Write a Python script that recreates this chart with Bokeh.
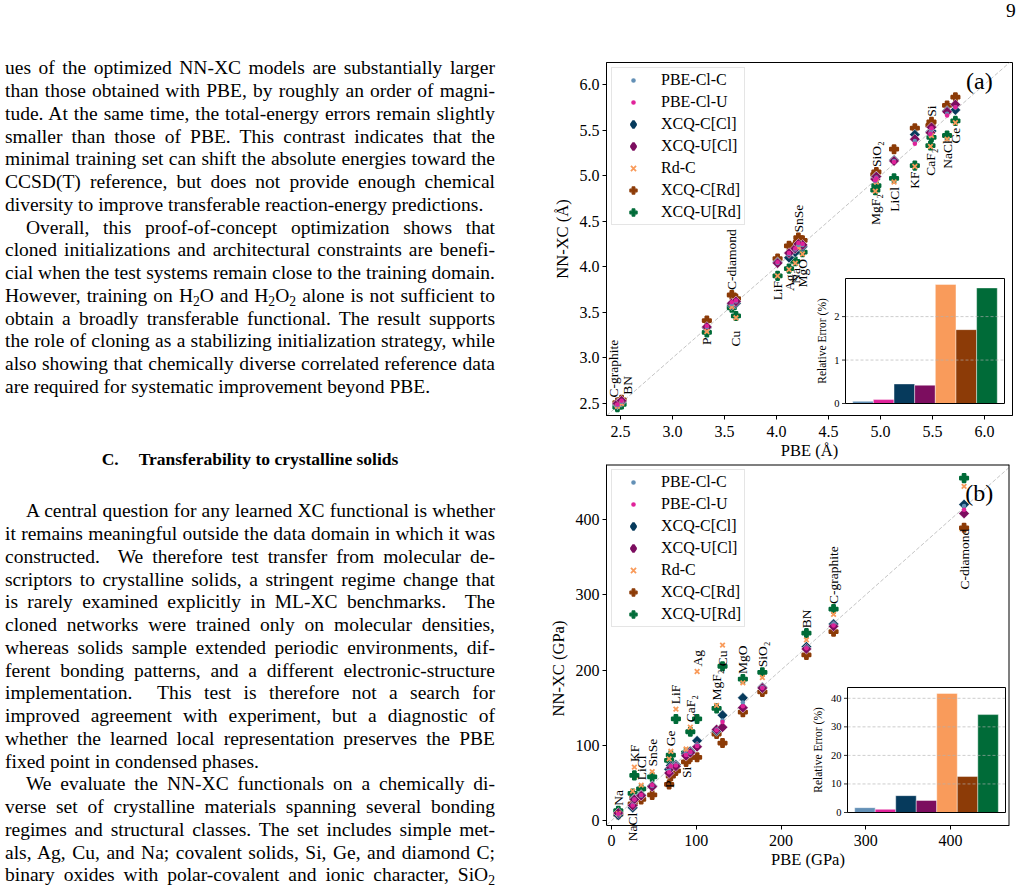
import numpy as np
from bokeh.plotting import figure
from bokeh.models import (Range1d, FixedTicker, NumeralTickFormatter, Legend, LegendItem,
                          Slope, Label, Div)
from bokeh.layouts import row, column
from bokeh.embed import file_html
from bokeh.resources import INLINE
from bokeh.core.properties import value

# ---------------------------------------------------------------- data
SERIES = ["PBE-Cl-C", "PBE-Cl-U", "XCQ-C[Cl]", "XCQ-U[Cl]", "Rd-C", "XCQ-C[Rd]", "XCQ-U[Rd]"]

# panel (a): lattice constants (Å)
lat_materials = ["C-graphite", "BN", "P", "C-diamond", "Cu", "LiF", "Ag", "Na", "MgO", "SnSe",
                 "MgF₂", "SiO₂", "LiCl", "KF", "CaF₂", "Si", "NaCl", "Ge"]
lat_pbe      = [2.47, 2.51, 3.33, 3.57, 3.61, 4.01, 4.12, 4.18, 4.25, 4.21, 4.95, 4.96, 5.13, 5.33, 5.48, 5.49, 5.64, 5.72]
lat_pbe_cl_c = [2.48, 2.52, 3.34, 3.59, 3.62, 4.04, 4.14, 4.19, 4.24, 4.24, 4.94, 4.98, 5.16, 5.38, 5.47, 5.51, 5.68, 5.75]
lat_pbe_cl_u = [2.49, 2.53, 3.35, 3.61, 3.63, 4.05, 4.15, 4.20, 4.25, 4.26, 4.95, 4.97, 5.15, 5.35, 5.46, 5.52, 5.66, 5.75]
lat_xcq_c_cl = [2.49, 2.52, 3.33, 3.58, 3.60, 4.05, 4.10, 4.16, 4.22, 4.23, 4.97, 4.99, 5.17, 5.45, 5.48, 5.49, 5.71, 5.72]
lat_xcq_u_cl = [2.50, 2.53, 3.34, 3.60, 3.62, 4.04, 4.15, 4.20, 4.24, 4.25, 4.96, 4.99, 5.16, 5.40, 5.47, 5.53, 5.70, 5.78]
lat_rd_c     = [2.47, 2.50, 3.29, 3.56, 3.44, 3.90, 3.97, 4.04, 4.14, 4.21, 4.83, 4.93, 4.93, 5.10, 5.32, 5.44, 5.40, 5.58]
lat_xcq_c_rd = [2.51, 2.54, 3.41, 3.69, 3.65, 4.09, 4.23, 4.24, 4.29, 4.32, 5.01, 5.04, 5.29, 5.52, 5.55, 5.59, 5.77, 5.86]
lat_xcq_u_rd = [2.46, 2.49, 3.28, 3.55, 3.46, 3.90, 3.98, 4.06, 4.16, 4.22, 4.84, 4.89, 4.97, 5.11, 5.33, 5.42, 5.44, 5.60]
lat_rel_err  = [0.05, 0.09, 0.45, 0.42, 2.74, 1.70, 2.66]
lat_ticks    = [2.5, 3.0, 3.5, 4.0, 4.5, 5.0, 5.5, 6.0]
lat_err_ticks = [0, 1, 2]

# panel (b): bulk moduli (GPa)
bulk_materials = ["Na", "NaCl", "KF", "LiCl", "SnSe", "P", "Ge", "LiF", "Si", "CaF₂", "Ag", "MgF₂",
                  "Cu", "MgO", "SiO₂", "BN", "C-graphite", "C-diamond"]
bulk_pbe      = [8, 25, 27, 35, 48, 68, 70, 76, 88, 93, 101, 124, 131, 155, 178, 230, 262, 416]
bulk_pbe_cl_c = [8, 21, 28, 33, 46, 66, 72, 74, 88, 90, 100, 121, 133, 157, 177, 230, 261, 418]
bulk_pbe_cl_u = [9, 20, 28, 34, 47, 64, 72, 73, 87, 91, 99, 120, 131, 152, 176, 229, 259, 413]
bulk_xcq_c_cl = [7, 17, 29, 34, 46, 68, 73, 74, 89, 92, 106, 119, 140, 163, 177, 231, 261, 420]
bulk_xcq_u_cl = [10, 20, 28, 33, 45, 63, 70, 72, 86, 90, 98, 121, 124, 150, 176, 228, 258, 408]
bulk_rd_c     = [9, 39, 71, 47, 65, 82, 92, 148, 95, 124, 198, 153, 233, 183, 190, 240, 274, 444]
bulk_xcq_c_rd = [8, 22, 30, 28, 34, 48, 59, 66, 78, 84, 84, 115, 103, 144, 171, 220, 251, 389]
bulk_xcq_u_rd = [13, 36, 60, 42, 58, 80, 87, 135, 90, 118, 135, 149, 205, 188, 197, 249, 281, 455]
bulk_rel_err  = [1.7, 1.1, 5.9, 4.2, 41.7, 12.6, 34.3]
bulk_ticks    = [0, 100, 200, 300, 400]
bulk_err_ticks = [0, 10, 20, 30, 40]

# ---------------------------------------------------------------- styles / placement
FONT = "Liberation Serif"
COLORS = {"PBE-Cl-C": "#6390b6", "PBE-Cl-U": "#e0229a", "XCQ-C[Cl]": "#063a5c",
          "XCQ-U[Cl]": "#7c0d5f", "Rd-C": "#f99b5b", "XCQ-C[Rd]": "#8c3b07", "XCQ-U[Rd]": "#006b38"}
MARKERS = {
    "PBE-Cl-C": dict(marker="circle", size=4.5, line_color=None),
    "PBE-Cl-U": dict(marker="circle", size=4.5, line_color=None),
    "XCQ-C[Cl]": dict(marker="square", angle=np.pi / 4, size=7.5, line_color="white", line_width=0.5),
    "XCQ-U[Cl]": dict(marker="square", angle=np.pi / 4, size=7.5, line_color="white", line_width=0.5),
    "Rd-C": dict(marker="x", size=6.5, line_width=1.8, line_color="self"),
    "XCQ-C[Rd]": dict(marker="plus", size=8.5, line_width=1.6, line_color="self"),
    "XCQ-U[Rd]": dict(marker="plus", size=8.5, line_width=1.6, line_color="self"),
}
# legend proxies: legend glyphs share one size, so strokes are used to shrink/grow them
LEGEND_MARKERS = {
    "PBE-Cl-C": dict(marker="circle", line_color="white", line_width=2.6),
    "PBE-Cl-U": dict(marker="circle", line_color="white", line_width=2.6),
    "XCQ-C[Cl]": dict(marker="diamond", line_color="self", line_width=2.4),
    "XCQ-U[Cl]": dict(marker="diamond", line_color="self", line_width=2.4),
    "Rd-C": dict(marker="x", line_color="self", line_width=1.8),
    "XCQ-C[Rd]": dict(marker="plus", line_color="self", line_width=1.2),
    "XCQ-U[Rd]": dict(marker="plus", line_color="self", line_width=1.2),
}
DRAW_ORDER = ["XCQ-C[Rd]", "XCQ-U[Rd]", "XCQ-C[Cl]", "XCQ-U[Cl]", "Rd-C", "PBE-Cl-C", "PBE-Cl-U"]

lat_label_side = ["up", "up", "down", "up", "down", "down", "down", "down", "down", "up",
                  "down", "up", "down", "down", "down", "up", "down", "down"]
lat_label_dx = [-4, 6, 0, 0, 0, 0, 0, 0, 0, 0, 0, 0, 0, 0, 0, 0, 0, 0]
lat_label_dy = [0, 0, 0, 0, 8, 0, 0, 0, 0, 0, -2, 0, 0, 0, -3, 0, -4, 0]   # screen px, + = down
bulk_label_side = ["up", "down", "up", "up", "up", "down", "up", "up", "down", "up", "up", "up",
                   "up", "up", "up", "up", "up", "down"]
bulk_label_dx = [0] * 18
bulk_label_dy = [0, 0, 0, 0, 0, -9, 0, 0, 0, 0, 0, 0, 26, 0, 0, 0, 0, -4]

# layout geometry (page pixels)
LEFT_W = 520
COL_X = 8 + LEFT_W
PAGE_TOP_DIV = 22


def sty(d, col):
    d = dict(d)
    if d.get("line_color") == "self":
        d["line_color"] = col
    return d


def build_panel(frame_box, fig_top, fig_bottom, xr, yr, materials, pbe, series_vals, ticks,
                fmt, xlabel, ylabel, rel_err, err_ticks, inset_box, tag, tag_xy,
                side, dxs, dys, ylab_dx, xstand, extend_below=0):
    """extend_below > 0: the plotting frame continues below the x axis (the axis is pinned at
    the bottom of the data area) so that labels may cross the axis line, as in the original."""
    L, T, R, B = frame_box
    ppu_y = (B - T) / (yr[1] - yr[0])
    y_start = yr[0] - extend_below / ppu_y
    Bf = B + extend_below
    p = figure(frame_width=R - L, frame_height=Bf - T,
               x_range=Range1d(*xr), y_range=Range1d(y_start, yr[1]),
               output_backend="svg", toolbar_location=None,
               min_border_left=L - COL_X, min_border_right=1016 - R,
               min_border_top=T - fig_top, min_border_bottom=fig_bottom - Bf)
    p.background_fill_color = "white"
    p.border_fill_color = "white"
    p.xgrid.visible = False
    p.ygrid.visible = False

    p.xaxis.ticker = FixedTicker(ticks=ticks)
    p.yaxis.ticker = FixedTicker(ticks=ticks)
    p.xaxis.formatter = NumeralTickFormatter(format=fmt)
    p.yaxis.formatter = NumeralTickFormatter(format=fmt)
    p.xaxis.axis_label = xlabel
    p.yaxis.axis_label = ylabel
    p.axis.axis_line_color = "black"
    p.axis.axis_line_width = 1
    p.axis.major_tick_line_color = "black"
    p.axis.major_tick_out = 4
    p.axis.major_tick_in = 0
    p.axis.minor_tick_line_color = None
    p.axis.major_label_text_font = FONT
    p.axis.major_label_text_font_size = "16px"
    p.axis.major_label_text_color = "black"
    p.axis.axis_label_text_font = FONT
    p.axis.axis_label_text_font_size = "16.5px"
    p.axis.axis_label_text_font_style = "normal"
    p.axis.axis_label_text_color = "black"
    p.xaxis.major_label_standoff = xstand
    p.xaxis.axis_label_standoff = 1
    p.yaxis.major_label_standoff = 3
    p.yaxis.axis_label_standoff = 5

    if extend_below > 0:
        p.xaxis.fixed_location = yr[0]
        p.yaxis.bounds = (yr[0], yr[1])
        p.outline_line_color = None
        # top and right spines of the data box
        p.segment(x0=[xr[0], xr[1]], y0=[yr[1], yr[0]], x1=[xr[1], xr[1]], y1=[yr[1], yr[1]],
                  line_color="black", line_width=2)
    else:
        p.outline_line_color = "black"
        p.outline_line_width = 1
        p.outline_line_alpha = 1

    # identity line
    p.add_layout(Slope(gradient=1, y_intercept=0, line_color="#bdbdbd", line_width=0.9,
                       line_dash="4 2", level="underlay"))

    # scatter series
    for s in DRAW_ORDER:
        col = COLORS[s]
        p.scatter(x=pbe, y=series_vals[s], fill_color=col, **sty(MARKERS[s], col))

    # legend with proxy renderers (no visible data)
    proxies = {}
    for s in SERIES:
        col = COLORS[s]
        proxies[s] = p.scatter(x=[np.nan], y=[np.nan], fill_color=col,
                               **sty(LEGEND_MARKERS[s], col))
    legend = Legend(items=[LegendItem(label=s, renderers=[proxies[s]]) for s in SERIES],
                    location="top_left", label_text_font=FONT, label_text_font_size="16px",
                    label_text_color="black",
                    glyph_width=36, glyph_height=18, label_height=18, label_standoff=10,
                    spacing=4, padding=3, margin=5,
                    border_line_color="#cccccc", border_line_width=1,
                    background_fill_color="white", background_fill_alpha=1.0)
    p.add_layout(legend)

    # material labels, one annotation each
    vals = np.array([series_vals[s] for s in SERIES], dtype=float)
    ymax = vals.max(axis=0)
    ymin = vals.min(axis=0)
    gap = 5
    for i, m in enumerate(materials):
        is_up = side[i] == "up"
        p.add_layout(Label(x=pbe[i], y=float(ymax[i] if is_up else ymin[i]), text=m,
                           angle=np.pi / 2, x_offset=dxs[i],
                           y_offset=(gap if is_up else -gap) - dys[i],
                           text_font=FONT, text_font_size="13.5px", text_color="black",
                           text_align="left" if is_up else "right", text_baseline="middle"))

    # panel tag
    p.add_layout(Label(x=tag_xy[0], y=tag_xy[1], text=tag, text_font=FONT, text_font_size="24px",
                       text_color="black", text_align="center", text_baseline="middle"))

    # inset bar chart via extra ranges mapped onto the inset box
    l, t, r, b = inset_box
    n = len(rel_err)
    ix0, ix1 = -0.5 - 0.05 * n, n - 0.5 + 0.05 * n
    iy0, iy1 = 0.0, max(rel_err) * 1.05
    sx = (r - l) / (ix1 - ix0)
    sy = (b - t) / (iy1 - iy0)
    p.extra_x_ranges = {"ix": Range1d(ix0 - (l - L) / sx, ix1 + (R - r) / sx)}
    p.extra_y_ranges = {"iy": Range1d(iy0 - (Bf - b) / sy, iy1 + (t - T) / sy)}
    kw = dict(x_range_name="ix", y_range_name="iy")
    p.quad(left=[ix0], right=[ix1], bottom=[iy0], top=[iy1], fill_color="white",
           line_color=None, **kw)
    p.vbar(x=list(range(n)), width=1.0, top=rel_err, bottom=0,
           fill_color=[COLORS[s] for s in SERIES], line_color="white", line_width=0.6,
           line_alpha=0.7, **kw)
    p.segment(x0=[ix0] * len(err_ticks), x1=[ix1] * len(err_ticks), y0=err_ticks, y1=err_ticks,
              line_color="#b0b0b0", line_width=0.8, line_dash="3 2", line_alpha=0.8, **kw)
    p.quad(left=[ix0], right=[ix1], bottom=[iy0], top=[iy1], fill_color=None,
           line_color="black", line_width=1, **kw)
    tick_len = 3.5 / sx
    p.segment(x0=[ix0 - tick_len] * len(err_ticks), x1=[ix0] * len(err_ticks),
              y0=err_ticks, y1=err_ticks, line_color="black", line_width=0.8, **kw)
    p.text(x=[ix0] * len(err_ticks), y=err_ticks, text=[str(v) for v in err_ticks],
           x_offset=-6, text_font=value(FONT), text_font_size="10.5px", text_color="black",
           text_align="right", text_baseline="middle", **kw)
    p.text(x=[ix0], y=[(iy0 + iy1) / 2], text=["Relative Error (%)"], angle=np.pi / 2,
           x_offset=ylab_dx, text_font=value(FONT), text_font_size="11.5px", text_color="black",
           text_align="center", text_baseline="middle", **kw)
    return p


lat_vals = {"PBE-Cl-C": lat_pbe_cl_c, "PBE-Cl-U": lat_pbe_cl_u, "XCQ-C[Cl]": lat_xcq_c_cl,
            "XCQ-U[Cl]": lat_xcq_u_cl, "Rd-C": lat_rd_c, "XCQ-C[Rd]": lat_xcq_c_rd,
            "XCQ-U[Rd]": lat_xcq_u_rd}
bulk_vals = {"PBE-Cl-C": bulk_pbe_cl_c, "PBE-Cl-U": bulk_pbe_cl_u, "XCQ-C[Cl]": bulk_xcq_c_cl,
             "XCQ-U[Cl]": bulk_xcq_u_cl, "Rd-C": bulk_rd_c, "XCQ-C[Rd]": bulk_xcq_c_rd,
             "XCQ-U[Rd]": bulk_xcq_u_rd}

fig_a = build_panel((602, 60, 1008, 413), 8 + PAGE_TOP_DIV, 461,
                    (2.365, 6.269), (2.368, 6.241), lat_materials, lat_pbe, lat_vals, lat_ticks,
                    "0.0", "PBE (Å)", "NN-XC (Å)", lat_rel_err, lat_err_ticks,
                    (841, 276, 1000, 401), "(a)", (5.95, 6.04),
                    lat_label_side, lat_label_dx, lat_label_dy, -24, 6)
fig_b = build_panel((604, 462, 1007, 823), 461, 872,
                    (-5.9, 469.6), (-6.6, 473.1), bulk_materials, bulk_pbe, bulk_vals, bulk_ticks,
                    "0", "PBE (GPa)", "NN-XC (GPa)", bulk_rel_err, bulk_err_ticks,
                    (845, 685, 1003, 810), "(b)", (434, 435),
                    bulk_label_side, bulk_label_dx, bulk_label_dy, -30, 5, extend_below=47)

# ---------------------------------------------------------------- page text
SUB = '<span style="font-size:70%;vertical-align:-0.3em;line-height:0">2</span>'
block1 = [
    ("ues of the optimized NN-XC models are substantially larger", "J", False),
    ("than those obtained with PBE, by roughly an order of magni-", "J", False),
    ("tude. At the same time, the total-energy errors remain slightly", "J", False),
    ("smaller than those of PBE. This contrast indicates that the", "J", False),
    ("minimal training set can shift the absolute energies toward the", "J", False),
    ("CCSD(T) reference, but does not provide enough chemical", "J", False),
    ("diversity to improve transferable reaction-energy predictions.", "L", False),
    ("Overall, this proof-of-concept optimization shows that", "J", True),
    ("cloned initializations and architectural constraints are benefi-", "J", False),
    ("cial when the test systems remain close to the training domain.", "J", False),
    (f"However, training on H{SUB}O and H{SUB}O{SUB} alone is not sufficient to", "J", False),
    ("obtain a broadly transferable functional. The result supports", "J", False),
    ("the role of cloning as a stabilizing initialization strategy, while", "J", False),
    ("also showing that chemically diverse correlated reference data", "J", False),
    ("are required for systematic improvement beyond PBE.", "L", False),
]
block2 = [
    ("A central question for any learned XC functional is whether", "J", True),
    ("it remains meaningful outside the data domain in which it was", "J", False),
    ("constructed. &nbsp;We therefore test transfer from molecular de-", "J", False),
    ("scriptors to crystalline solids, a stringent regime change that", "J", False),
    ("is rarely examined explicitly in ML-XC benchmarks. &nbsp;The", "J", False),
    ("cloned networks were trained only on molecular densities,", "J", False),
    ("whereas solids sample extended periodic environments, dif-", "J", False),
    ("ferent bonding patterns, and a different electronic-structure", "J", False),
    ("implementation. &nbsp;This test is therefore not a search for", "J", False),
    ("improved agreement with experiment, but a diagnostic of", "J", False),
    ("whether the learned local representation preserves the PBE", "J", False),
    ("fixed point in condensed phases.", "L", False),
    ("We evaluate the NN-XC functionals on a chemically di-", "J", True),
    ("verse set of crystalline materials spanning several bonding", "J", False),
    ("regimes and structural classes. The set includes simple met-", "J", False),
    ("als, Ag, Cu, and Na; covalent solids, Si, Ge, and diamond C;", "J", False),
    (f"binary oxides with polar-covalent and ionic character, SiO{SUB}", "J", False),
]


def line_html(txt, mode, indent):
    a = "justify" if mode == "J" else "left"
    st = f"white-space:nowrap;text-align:{a};text-align-last:{a};"
    if indent:
        st += "text-indent:21px;"
    return f'<div style="{st}">{txt}</div>'


def block_html(lines, top, lh):
    inner = "".join(line_html(*ln) for ln in lines)
    return (f'<div style="position:absolute;left:0;top:{top}px;width:490px;'
            f'line-height:{lh}px;font-size:19.5px;">{inner}</div>')


heading = ('<div style="position:absolute;left:0;top:442.6px;width:490px;text-align:center;'
           'font-weight:bold;font-size:17.5px;line-height:23px;white-space:nowrap;">'
           'C.<span style="display:inline-block;width:20px"></span>'
           'Transferability to crystalline solids</div>')

page_html = (f'<div style="position:relative;width:{LEFT_W}px;height:872px;'
             f'font-family:\'{FONT}\';color:black;">'
             + block_html(block1, 52.4, 22.75) + heading + block_html(block2, 495.3, 22.75)
             + '</div>')
left_div = Div(text=page_html, width=LEFT_W, height=872)

num_div = Div(text=(f'<div style="position:relative;width:488px;height:{PAGE_TOP_DIV}px;">'
                    f'<div style="position:absolute;left:471px;top:-4px;font-family:\'{FONT}\';'
                    f'font-size:19.5px;line-height:20px;color:black;">9</div></div>'),
              width=488, height=PAGE_TOP_DIV)

layout = row(left_div, column(num_div, fig_a, fig_b))

open("out.html", "w").write(file_html(layout, INLINE))
